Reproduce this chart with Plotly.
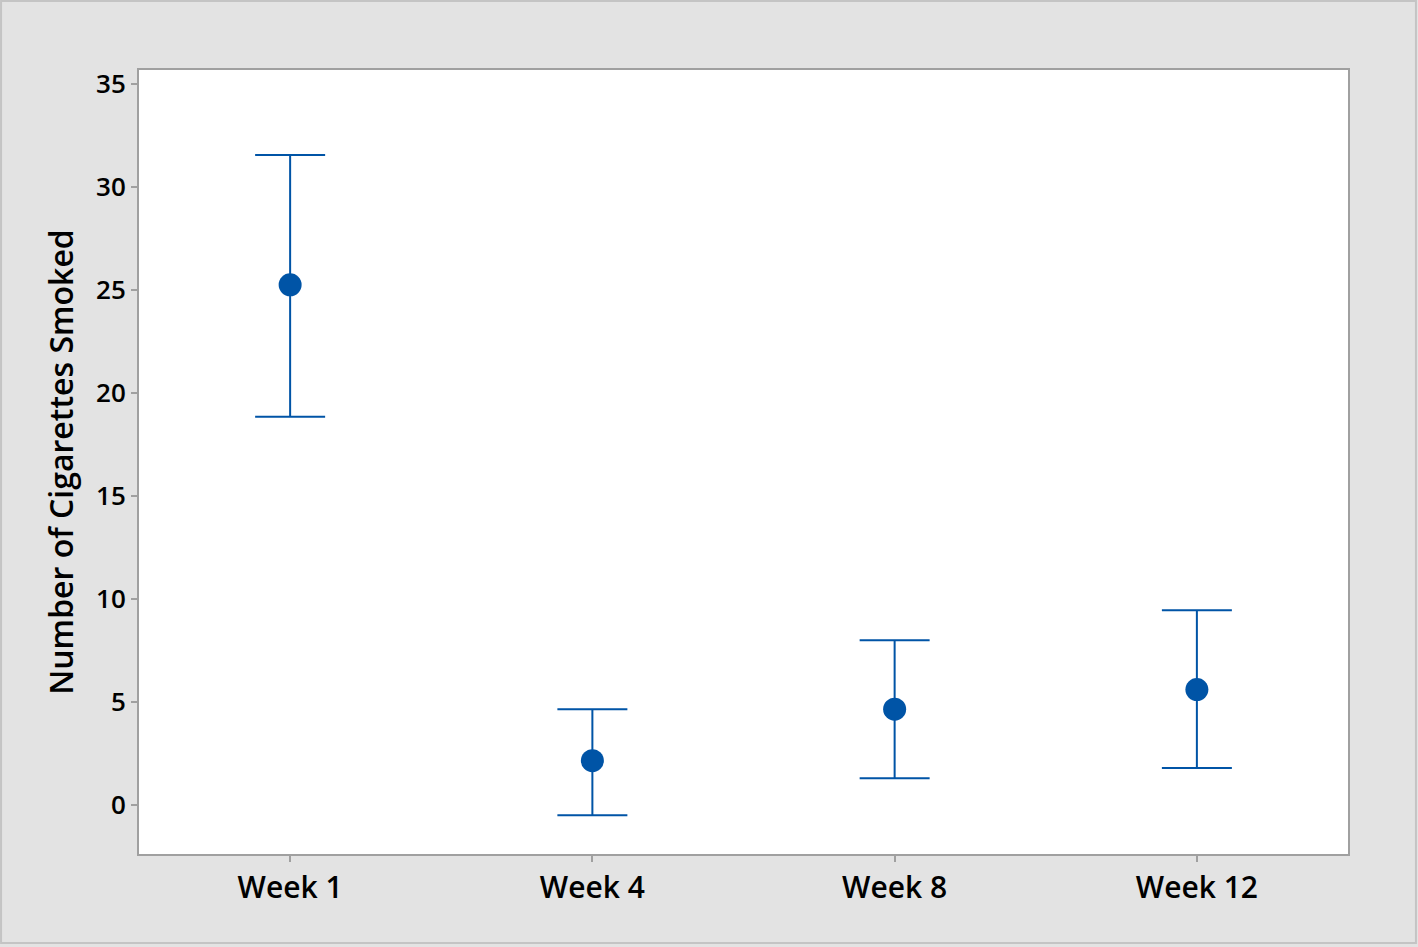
import plotly.graph_objects as go

# Mean number of cigarettes smoked with interval bounds
weeks = ["Week 1", "Week 4", "Week 8", "Week 12"]
means = [25.25, 2.15, 4.65, 5.6]
upper = [31.55, 4.65, 8.0, 9.45]
lower = [18.85, -0.5, 1.3, 1.8]

blue = "#0054a6"
axis_gray = "#a0a0a0"

fig = go.Figure(go.Scatter(
    x=weeks,
    y=means,
    mode="markers",
    marker=dict(size=23, color=blue),
    error_y=dict(
        type="data",
        symmetric=False,
        array=[u - m for u, m in zip(upper, means)],
        arrayminus=[m - l for m, l in zip(means, lower)],
        color=blue,
        thickness=2,
        width=35,
    ),
    showlegend=False,
))

fig.update_layout(
    width=1418,
    height=947,
    margin=dict(l=139, r=70, t=70, b=93),
    paper_bgcolor="#e3e3e3",
    plot_bgcolor="white",
    font=dict(family="Open Sans, Noto Sans, sans-serif", size=22, color="black", weight=600),
    xaxis=dict(
        range=[-0.5, 3.5],
        showgrid=False,
        zeroline=False,
        showline=True,
        linecolor=axis_gray,
        linewidth=2,
        mirror=True,
        ticks="outside",
        ticklen=6,
        tickcolor=axis_gray,
        tickwidth=2,
        tickfont=dict(size=30, weight=600),
    ),
    yaxis=dict(
        range=[-2.38, 35.68],
        tickvals=[0, 5, 10, 15, 20, 25, 30, 35],
        showgrid=False,
        zeroline=False,
        showline=True,
        linecolor=axis_gray,
        linewidth=2,
        mirror=True,
        ticks="outside",
        ticklen=6,
        tickcolor=axis_gray,
        tickwidth=2,
        tickfont=dict(size=26, weight=600),
        title=dict(text="Number of Cigarettes Smoked", font=dict(size=32, weight=600), standoff=13),
    ),
    shapes=[dict(
        type="rect",
        xref="paper", yref="paper",
        x0=-0.1141, x1=1.0562, y0=-0.1135, y1=1.088,
        line=dict(color="#c4c4c4", width=2),
        fillcolor="rgba(0,0,0,0)",
        layer="below",
    )],
)

fig.write_html(
    "out.html",
    config={"displayModeBar": False},
    post_script="document.body.style.margin='0';",
)
